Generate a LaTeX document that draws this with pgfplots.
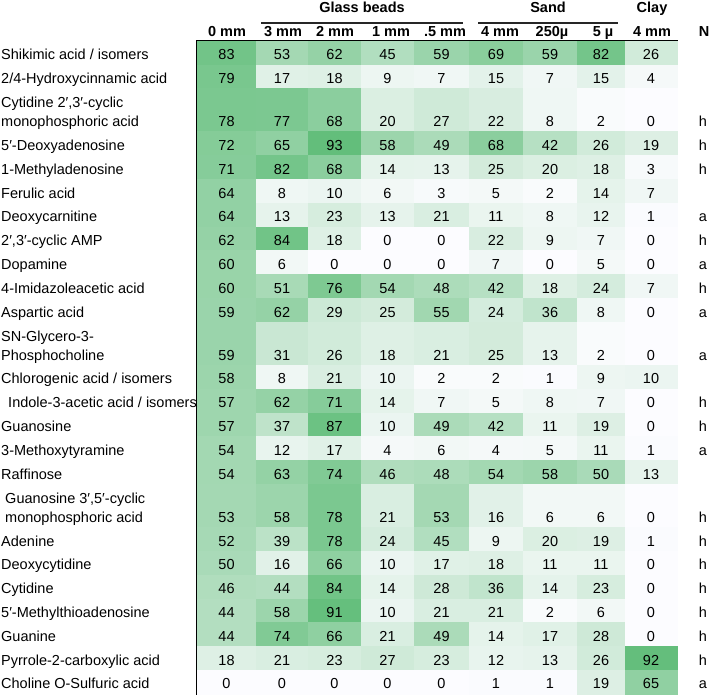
\documentclass[border=0pt]{standalone}
\usepackage{pgfplots}
\pgfplotsset{compat=1.18}
\usepackage{pgfplotstable}
\usepackage{fontspec}
\setmainfont{Liberation Sans}

\pgfplotstableread{
y h c0 c1 c2 c3 c4 c5 c6 c7 c8 N
52.9 23.8 83 53 62 45 59 69 59 82 26 {}
76.7 23.8 79 17 18 9 7 15 7 15 4 {}
110.15 43.1 78 77 68 20 27 22 8 2 0 h
143.6 23.8 72 65 93 58 49 68 42 26 19 h
167.4 23.8 71 82 68 14 13 25 20 18 3 h
191.2 23.8 64 8 10 6 3 5 2 14 7 {}
215.0 23.8 64 13 23 13 21 11 8 12 1 a
238.8 23.8 62 84 18 0 0 22 9 7 0 h
262.6 23.8 60 6 0 0 0 7 0 5 0 a
286.4 23.8 60 51 76 54 48 42 18 24 7 h
310.2 23.8 59 62 29 25 55 24 36 8 0 a
343.65 43.1 59 31 26 18 21 25 13 2 0 a
377.1 23.8 58 8 21 10 2 2 1 9 10 {}
400.9 23.8 57 62 71 14 7 5 8 7 0 h
424.7 23.8 57 37 87 10 49 42 11 19 0 h
448.5 23.8 54 12 17 4 6 4 5 11 1 a
472.3 23.8 54 63 74 46 48 54 58 50 13 {}
505.75 43.1 53 58 78 21 53 16 6 6 0 h
539.2 23.8 52 39 78 24 45 9 20 19 1 h
563.0 23.8 50 16 66 10 17 18 11 11 0 h
586.8 23.8 46 44 84 14 28 36 14 23 0 h
610.6 23.8 44 58 91 10 21 21 2 6 0 h
634.4 23.8 44 74 66 21 49 14 17 28 0 h
658.2 23.8 18 21 23 27 23 12 13 26 92 h
682.0 23.8 0 0 0 0 0 1 1 19 65 a
}\data

\pgfdeclareplotmark{cell}{%
  \pgfpathrectangle{\pgfpoint{-0.5*\cellw pt}{-0.5*\cellh pt}}{\pgfpoint{\cellw pt}{\cellh pt}}%
  \pgfusepath{fill,stroke}%
  \pgftext[base,at={\pgfpoint{0pt}{-0.5*\cellh pt+5pt}}]{\color{black}\pgfmathprintnumber[fixed,precision=0,assume math mode=true]{\cellval}}%
}

\pgfplotsset{
  cellplot/.style={scatter, only marks, mark=cell, point meta=explicit,
    mark options={line width=0.4pt},
    scatter/use mapped color={draw=mapped color, fill=mapped color},
    visualization depends on={\thisrow{h} \as \cellh},
    visualization depends on={#1 \as \cellw}},
}
\tikzset{lab/.style={anchor=base west, inner sep=0pt},
  hd/.style={anchor=base, inner sep=0pt, font=\bfseries}}

\begin{document}
\fontsize{14.5}{17}\selectfont
\begin{tikzpicture}
\begin{axis}[
  scale only axis, width=709pt, height=696pt,
  xmin=0, xmax=709, ymin=0, ymax=696, y dir=reverse,
  hide axis, clip=false, set layers,
  colormap={exgreen}{rgb255=(252,252,255) rgb255=(99,190,123)},
  point meta min=0, point meta max=93,
]
\begin{pgfonlayer}{axis background}
\node[lab] at (axis cs:1,59.8) {Shikimic acid / isomers};
\node[lab] at (axis cs:1,83.6) {2/4-Hydroxycinnamic acid};
\node[lab] at (axis cs:1,107.7) {Cytidine 2′,3′-cyclic};
\node[lab] at (axis cs:1,126.7) {monophosphoric acid};
\node[lab] at (axis cs:1,150.5) {5′-Deoxyadenosine};
\node[lab] at (axis cs:1,174.3) {1-Methyladenosine};
\node[lab] at (axis cs:1,198.1) {Ferulic acid};
\node[lab] at (axis cs:1,221.9) {Deoxycarnitine};
\node[lab] at (axis cs:1,245.7) {2′,3′-cyclic AMP};
\node[lab] at (axis cs:1,269.5) {Dopamine};
\node[lab] at (axis cs:1,293.3) {4-Imidazoleacetic acid};
\node[lab] at (axis cs:1,317.1) {Aspartic acid};
\node[lab] at (axis cs:1,341.2) {SN-Glycero-3-};
\node[lab] at (axis cs:1,360.2) {Phosphocholine};
\node[lab] at (axis cs:1,384.0) {Chlorogenic acid / isomers};
\node[lab] at (axis cs:4,407.8) {\ Indole-3-acetic acid / isomers};
\node[lab] at (axis cs:1,431.6) {Guanosine};
\node[lab] at (axis cs:1,455.4) {3-Methoxytyramine};
\node[lab] at (axis cs:1,479.2) {Raffinose};
\node[lab] at (axis cs:1,503.3) {\ Guanosine 3′,5′-cyclic};
\node[lab] at (axis cs:1,522.3) {\ monophosphoric acid};
\node[lab] at (axis cs:1,546.1) {Adenine};
\node[lab] at (axis cs:1,569.9) {Deoxycytidine};
\node[lab] at (axis cs:1,593.7) {Cytidine};
\node[lab] at (axis cs:1,617.5) {5′-Methylthioadenosine};
\node[lab] at (axis cs:1,641.3) {Guanine};
\node[lab] at (axis cs:1,665.1) {Pyrrole-2-carboxylic acid};
\node[lab] at (axis cs:1,688.9) {Choline O-Sulfuric acid};
\end{pgfonlayer}

\addplot[cellplot=59, visualization depends on={\thisrow{c0} \as \cellval}] table[x expr=226.5, y=y, meta=c0] {\data};
\addplot[cellplot=52, visualization depends on={\thisrow{c1} \as \cellval}] table[x expr=282, y=y, meta=c1] {\data};
\addplot[cellplot=53, visualization depends on={\thisrow{c2} \as \cellval}] table[x expr=334.5, y=y, meta=c2] {\data};
\addplot[cellplot=53, visualization depends on={\thisrow{c3} \as \cellval}] table[x expr=387.5, y=y, meta=c3] {\data};
\addplot[cellplot=55, visualization depends on={\thisrow{c4} \as \cellval}] table[x expr=441.5, y=y, meta=c4] {\data};
\addplot[cellplot=54, visualization depends on={\thisrow{c5} \as \cellval}] table[x expr=496, y=y, meta=c5] {\data};
\addplot[cellplot=54, visualization depends on={\thisrow{c6} \as \cellval}] table[x expr=550, y=y, meta=c6] {\data};
\addplot[cellplot=48, visualization depends on={\thisrow{c7} \as \cellval}] table[x expr=601, y=y, meta=c7] {\data};
\addplot[cellplot=52, visualization depends on={\thisrow{c8} \as \cellval}] table[x expr=651, y=y, meta=c8] {\data};
\addplot[only marks, mark=none, point meta=explicit symbolic, nodes near coords,
  every node near coord/.append style={anchor=base, inner sep=0pt}]
  table[x expr=703, y expr=\thisrow{y}+0.5*\thisrow{h}-5, meta=N] {\data};

\draw[line width=1.5pt] (axis cs:197,41) rectangle (axis cs:677,694);
\draw[line width=1.5pt] (axis cs:256,41) -- (axis cs:256,694);
\draw[line width=1.5pt] (axis cs:625,41) -- (axis cs:625,694);
\draw[line width=1.5pt, black!85] (axis cs:261,23) -- (axis cs:463,23);
\draw[line width=1.5pt, black!85] (axis cs:478,23) -- (axis cs:618,23);

\node[hd] at (axis cs:362,13) {Glass beads};
\node[hd] at (axis cs:548,13) {Sand};
\node[hd] at (axis cs:652,13) {Clay};
\node[hd] at (axis cs:227,37) {0 mm};
\node[hd] at (axis cs:283,37) {3 mm};
\node[hd] at (axis cs:335,37) {2 mm};
\node[hd] at (axis cs:391,37) {1 mm};
\node[hd] at (axis cs:445,37) {.5 mm};
\node[hd] at (axis cs:500,37) {4 mm};
\node[hd] at (axis cs:552,37) {250µ};
\node[hd] at (axis cs:603,37) {5 µ};
\node[hd] at (axis cs:652,37) {4 mm};
\node[hd] at (axis cs:704,37) {N};
\end{axis}
\pgfresetboundingbox
\path[use as bounding box] (0,0) rectangle (709pt,696pt);
\end{tikzpicture}
\end{document}
